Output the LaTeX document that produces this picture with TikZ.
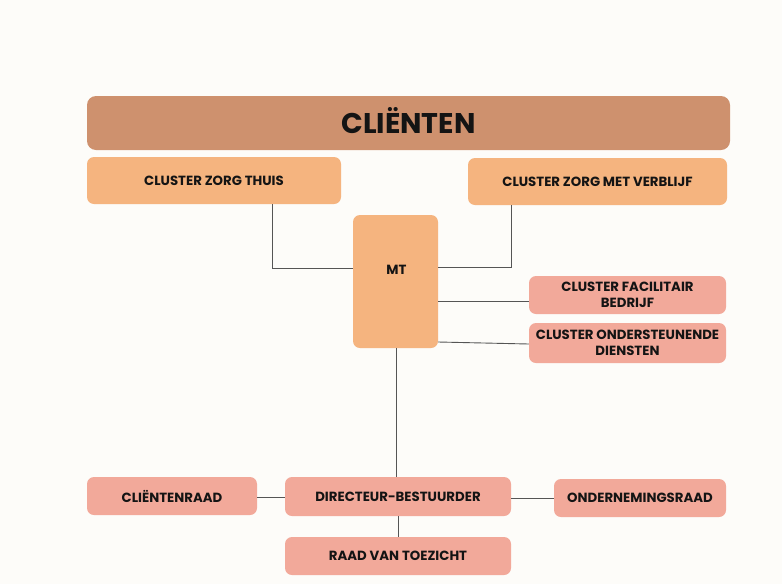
\documentclass[tikz,border=0pt]{standalone}
\usepackage{fontspec}
\setmainfont{Poppins}
\definecolor{bg}{HTML}{FDFCF9}
\definecolor{topc}{HTML}{CE916E}
\definecolor{orangec}{HTML}{F5B47F}
\definecolor{pinkc}{HTML}{F2A99A}
\definecolor{linec}{HTML}{555555}
\definecolor{txt}{HTML}{141414}
\tikzset{
  box/.style={rounded corners=7pt, draw=none, inner sep=0pt, align=center, text=txt,
    font=\fontsize{13.3}{16}\selectfont\bfseries},
  obox/.style={box, fill=orangec},
  pbox/.style={box, fill=pinkc},
  conn/.style={draw=linec, line width=0.9pt},
}
\begin{document}
\begin{tikzpicture}[x=1pt,y=-1pt]
\useasboundingbox[fill=bg] (0,0) rectangle (782,584);
\node[box, fill=topc, minimum width=643pt, minimum height=54pt, rounded corners=9pt,
  text height=20pt, text depth=0pt,
  font=\fontsize{28.5}{30}\selectfont\bfseries] (cl) at (408.5,123) {CLIËNTEN};
\node[obox, minimum width=254pt, minimum height=47pt] (czt) at (214,180.5) {CLUSTER ZORG THUIS};
\node[obox, minimum width=259pt, minimum height=47pt] (czmv) at (597.5,181.5) {CLUSTER ZORG MET VERBLIJF};
\node[obox, minimum width=85pt, minimum height=133pt] (mt) at (395.5,281.5) {};
\node[box] (mtl) at (396.5,270) {MT};
\node[pbox, minimum width=197pt, minimum height=38pt] (cfb) at (627.5,295) {CLUSTER FACILITAIR\\BEDRIJF};
\node[pbox, minimum width=197pt, minimum height=40pt] (cod) at (627.5,343) {CLUSTER ONDERSTEUNENDE\\DIENSTEN};
\node[pbox, minimum width=170pt, minimum height=38pt] (cr) at (172,496) {CLIËNTENRAAD};
\node[pbox, minimum width=226pt, minimum height=39pt] (db) at (398,496.5) {DIRECTEUR-BESTUURDER};
\node[pbox, minimum width=172pt, minimum height=38pt] (or) at (640,498) {ONDERNEMINGSRAAD};
\node[pbox, minimum width=226pt, minimum height=38pt] (rvt) at (398,556) {RAAD VAN TOEZICHT};
% connectors
\draw[conn] (czt.south -| 272,0) |- (mt.west |- 0,268);
\draw[conn] (czmv.south -| 511,0) |- (mt.east |- 0,267);
\draw[conn] (mt.east |- 0,301) -- (cfb.west |- 0,301);
\draw[conn] (mt.east |- 0,342) -- (cod.west |- 0,344);
\draw[conn] (mt.south -| 396,0) -- (db.north -| 396,0);
\draw[conn] (cr.east |- 0,497) -- (db.west |- 0,497);
\draw[conn] (db.east |- 0,498) -- (or.west |- 0,498);
\draw[conn] (db.south -| 398,0) -- (rvt.north -| 398,0);
\end{tikzpicture}
\end{document}
